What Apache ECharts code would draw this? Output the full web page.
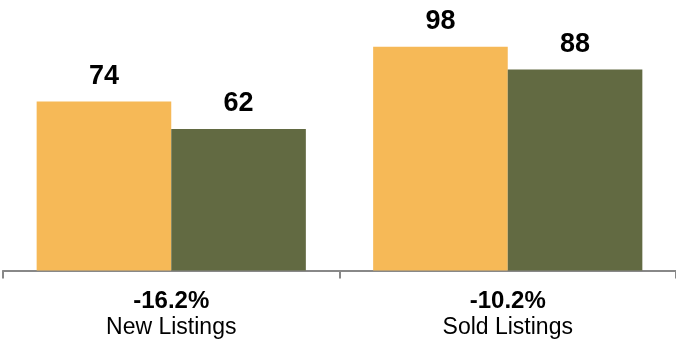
<!DOCTYPE html>
<html>
<head>
<meta charset="utf-8">
<script src="https://cdn.jsdelivr.net/npm/echarts@6/dist/echarts.min.js"></script>
<style>
html,body{margin:0;padding:0;background:#fff;}
#chart{width:676px;height:339px;}
</style>
</head>
<body>
<div id="chart"></div>
<script>
var categories = ["New Listings", "Sold Listings"];
var changes = ["-16.2%", "-10.2%"];
var seriesPrior = [74, 98];
var seriesCurrent = [62, 88];

var chart = echarts.init(document.getElementById('chart'), null, {renderer: 'canvas'});
var labelStyle = {
  show: true, position: 'top', distance: 12,
  fontFamily: 'Liberation Sans', fontWeight: 'bold', fontSize: 27, color: '#000'
};
chart.setOption({
  animation: false,
  grid: {left: 3, width: 678, top: 42.2, height: 228.8, containLabel: false},
  xAxis: {
    type: 'category',
    data: categories,
    axisLine: {show: true, lineStyle: {color: '#888', width: 2}},
    axisTick: {show: true, length: 8, lineStyle: {color: '#888', width: 2}},
    axisLabel: {
      margin: 18,
      formatter: function (v, i) { return '{b|' + changes[i] + '}\n{n|' + v + '}'; },
      rich: {
        b: {fontFamily: 'Liberation Sans', fontWeight: 'bold', fontSize: 24, color: '#000', lineHeight: 26},
        n: {fontFamily: 'Liberation Sans', fontSize: 23, color: '#000', lineHeight: 26}
      }
    }
  },
  yAxis: {type: 'value', min: 0, max: 100, show: false, splitLine: {show: false}},
  series: [
    {type: 'bar', data: seriesPrior, barGap: '0%', barCategoryGap: '20%',
     itemStyle: {color: '#F6B957'}, label: labelStyle},
    {type: 'bar', data: seriesCurrent, barGap: '0%', barCategoryGap: '20%',
     itemStyle: {color: '#626A42'}, label: labelStyle}
  ]
});
</script>
</body>
</html>
